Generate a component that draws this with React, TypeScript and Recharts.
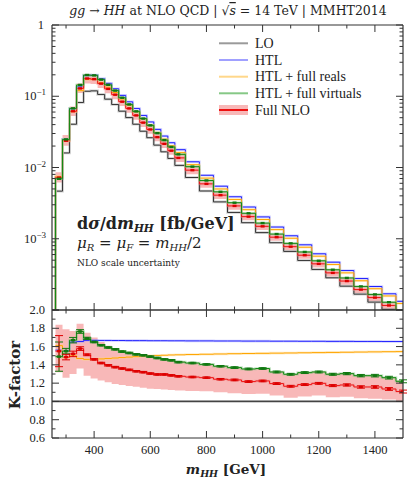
import React from 'react';
import { ComposedChart, Line, Area, Scatter, ErrorBar, XAxis, YAxis, ReferenceLine } from 'recharts';

const FONT = '"Liberation Serif", "DejaVu Serif", serif';
const WIDE = '"DejaVu Serif", serif';
const AXIS = '#333333';
const FLOOR = 1e-7;

// bin centres and bin edges in m_HH [GeV]
const CENTERS = [275, 300, 325, 350, 375, 400, 425, 450, 475, 500, 525, 550, 575, 600, 625, 650, 675, 700,
  750, 800, 850, 900, 950, 1000, 1050, 1100, 1150, 1200, 1250, 1300, 1350, 1400, 1450, 1500];
const EDGES = [262.5, 287.5, 312.5, 337.5, 362.5, 387.5, 412.5, 437.5, 462.5, 487.5, 512.5, 537.5, 562.5, 587.5,
  612.5, 637.5, 662.5, 687.5, 725, 775, 825, 875, 925, 975, 1025, 1075, 1125, 1175, 1225, 1275, 1325, 1375,
  1425, 1475, 1500];

// LO dsigma/dm_HH [fb/GeV]
const LO = [0.00466, 0.016, 0.0405, 0.0816, 0.1175, 0.119, 0.106, 0.091, 0.0765, 0.0617, 0.0502, 0.0405, 0.0323,
  0.0262, 0.0206, 0.0166, 0.0134, 0.0107, 0.00724, 0.00468, 0.00329, 0.00234, 0.00168, 0.00122, 0.00088,
  0.000664, 0.000496, 0.000371, 0.000283, 0.000216, 0.000167, 0.000129, 0.000102, 0.00008];

// K-factors (ratio to LO)
const K_HTL = [1.56, 1.555, 1.65, 1.655, 1.668, 1.668, 1.667, 1.667, 1.666, 1.666, 1.665, 1.665, 1.665, 1.664,
  1.664, 1.664, 1.663, 1.663, 1.662, 1.662, 1.661, 1.661, 1.66, 1.66, 1.659, 1.659, 1.658, 1.658, 1.657, 1.657,
  1.656, 1.656, 1.655, 1.655];
const K_REALS = [1.61, 1.48, 1.5, 1.47, 1.46, 1.46, 1.465, 1.47, 1.475, 1.48, 1.485, 1.49, 1.495, 1.5, 1.503,
  1.505, 1.508, 1.51, 1.513, 1.516, 1.519, 1.522, 1.524, 1.526, 1.528, 1.53, 1.532, 1.534, 1.536, 1.538, 1.54,
  1.542, 1.544, 1.545];
const K_VIRT = [1.49, 1.55, 1.67, 1.765, 1.69, 1.65, 1.615, 1.59, 1.57, 1.545, 1.53, 1.515, 1.505, 1.49, 1.475,
  1.46, 1.45, 1.43, 1.42, 1.405, 1.385, 1.37, 1.355, 1.36, 1.322, 1.297, 1.315, 1.322, 1.297, 1.304, 1.282,
  1.282, 1.26, 1.22];
const K_NLO = [1.55, 1.485, 1.52, 1.578, 1.51, 1.46, 1.42, 1.395, 1.375, 1.36, 1.345, 1.33, 1.32, 1.305, 1.295,
  1.295, 1.285, 1.275, 1.267, 1.26, 1.243, 1.235, 1.217, 1.224, 1.195, 1.166, 1.184, 1.198, 1.173, 1.18, 1.158,
  1.158, 1.136, 1.108];
const K_NLO_UP = [1.84, 1.79, 1.77, 1.85, 1.75, 1.7, 1.65, 1.61, 1.58, 1.56, 1.54, 1.52, 1.5, 1.48, 1.47, 1.465,
  1.455, 1.44, 1.42, 1.41, 1.39, 1.375, 1.355, 1.36, 1.33, 1.3, 1.32, 1.33, 1.305, 1.31, 1.29, 1.285, 1.265, 1.23];
const K_NLO_DN = [1.32, 1.26, 1.3, 1.36, 1.28, 1.25, 1.23, 1.21, 1.19, 1.18, 1.17, 1.16, 1.15, 1.14, 1.135, 1.13,
  1.125, 1.12, 1.115, 1.11, 1.1, 1.09, 1.08, 1.085, 1.065, 1.04, 1.055, 1.065, 1.045, 1.05, 1.035, 1.03, 1.02, 1.0];
const ERR_NLO = [0.17, 0.03, 0.03, 0.02, 0.01, 0.008, 0.008, 0.008, 0.008, 0.008, 0.008, 0.008, 0.008, 0.008,
  0.008, 0.008, 0.008, 0.008, 0.008, 0.008, 0.008, 0.009, 0.009, 0.009, 0.01, 0.01, 0.01, 0.01, 0.011, 0.012,
  0.013, 0.014, 0.015, 0.016];
const ERR_VIRT = [0.16, 0.03, 0.03, 0.02, 0.012, 0.008, 0.008, 0.008, 0.008, 0.008, 0.008, 0.008, 0.008, 0.008,
  0.008, 0.008, 0.008, 0.008, 0.008, 0.008, 0.008, 0.009, 0.009, 0.009, 0.01, 0.01, 0.01, 0.01, 0.011, 0.012,
  0.013, 0.014, 0.015, 0.016];

const X_TICKS = [300, 400, 500, 600, 700, 800, 900, 1000, 1100, 1200, 1300, 1400];
const DECADES = [-4, -3, -2, -1];
const MANTISSAS = [1, 2, 3, 4, 5, 6, 7, 8, 9];
const LOG_TICKS = [...DECADES.flatMap((d) => MANTISSAS.map((m) => m * Math.pow(10, d))), 1];
const RATIO_TICKS = [0.6, 0.7, 0.8, 0.9, 1.0, 1.1, 1.2, 1.3, 1.4, 1.5, 1.6, 1.7, 1.8, 1.9, 2.0];

const LEGEND = ['LO', 'HTL', 'HTL + full reals', 'HTL + full virtuals', 'Full NLO'];
const LEGEND_KEYS = ['lo', 'htl', 'reals', 'virt', 'nlo'];

const SERIES = [
  { key: 'lo', color: '#333333', halo: '#9a9a9a' },
  { key: 'htl', color: '#2222ff', halo: '#a0a0ff' },
  { key: 'reals', color: '#ffa500', halo: '#ffd78a' },
  { key: 'nlo', color: '#ee1111', halo: '#f59a9a' },
  { key: 'virt', color: '#138a13', halo: '#86c886' },
];

const n = CENTERS.length;

const topRows = [
  { x: EDGES[0], lo: FLOOR, htl: FLOOR, reals: FLOOR, virt: FLOOR, nlo: FLOOR },
  ...EDGES.map((x, i) => {
    const j = Math.min(i, n - 1);
    const lo = LO[j];
    return {
      x, lo,
      htl: lo * K_HTL[j], reals: lo * K_REALS[j], virt: lo * K_VIRT[j], nlo: lo * K_NLO[j],
      band: [lo * K_NLO_DN[j], lo * K_NLO_UP[j]],
    };
  }),
];
const topMarks = CENTERS.map((x, j) => ({ x, nlo: LO[j] * K_NLO[j], virt: LO[j] * K_VIRT[j] }));

const ratioRows = EDGES.map((x, i) => {
  const j = Math.min(i, n - 1);
  return { x, htl: K_HTL[j], reals: K_REALS[j], virt: K_VIRT[j], nlo: K_NLO[j], band: [K_NLO_DN[j], K_NLO_UP[j]] };
});
const ratioMarks = CENTERS.map((x, j) => ({ x, nlo: K_NLO[j], nloErr: ERR_NLO[j], virt: K_VIRT[j], virtErr: ERR_VIRT[j] }));

const txt = { fontFamily: FONT, fill: '#222' };
const wide = { fontFamily: WIDE, fill: '#222' };

function xTick(side: 'bottom' | 'top' | 'ratioBottom' | 'ratioTop') {
  return (p: any) => {
    const v = p.payload.value;
    const major = v % 200 === 0;
    const len = major ? 7 : 3.5;
    const down = side === 'top' || side === 'ratioTop';
    return (
      <g>
        <line x1={p.x} x2={p.x} y1={p.y} y2={down ? p.y + len : p.y - len} stroke={AXIS} />
        {side === 'ratioBottom' && major && (
          <text x={p.x} y={p.y + 16} textAnchor="middle" fontSize={12.5} style={txt}>{v}</text>
        )}
      </g>
    );
  };
}

function logTick(left: boolean) {
  return (p: any) => {
    const v = p.payload.value;
    const e = Math.round(Math.log10(v));
    const major = Math.abs(Math.log10(v) - e) < 1e-6;
    const len = major ? 7 : 3.5;
    return (
      <g>
        <line x1={p.x} x2={left ? p.x + len : p.x - len} y1={p.y} y2={p.y} stroke={AXIS} />
        {left && major && e === 0 && (
          <text x={p.x - 8} y={p.y + 4} textAnchor="end" fontSize={12.5} style={txt}>1</text>
        )}
        {left && major && e < 0 && e > -4 && (
          <text x={p.x - 6} y={p.y + 4} textAnchor="end" fontSize={12.5} style={txt}>
            10<tspan dy={-5} fontSize={9}>−{-e}</tspan>
          </text>
        )}
      </g>
    );
  };
}

function ratioTick(left: boolean) {
  return (p: any) => {
    const v = p.payload.value;
    const major = Math.round(v * 10) % 2 === 0;
    const len = major ? 7 : 3.5;
    return (
      <g>
        <line x1={p.x} x2={left ? p.x + len : p.x - len} y1={p.y} y2={p.y} stroke={AXIS} />
        {left && major && (
          <text x={p.x - 7} y={p.y + 4} textAnchor="end" fontSize={12.5} style={txt}>{v.toFixed(1)}</text>
        )}
      </g>
    );
  };
}

const mark = (color: string) => (p: any) => (
  <rect x={p.cx - 2} y={p.cy - 1.2} width={4} height={2.4} fill={color} />
);

function histLines(keys: string[], width: number) {
  return SERIES.filter((s) => keys.includes(s.key)).flatMap((s) => [
    <Line key={s.key + 'h'} dataKey={s.key} type="stepAfter" stroke={s.halo} strokeWidth={2.6} strokeOpacity={0.45}
      dot={false} isAnimationActive={false} />,
    <Line key={s.key} dataKey={s.key} type="stepAfter" stroke={s.color} strokeWidth={width}
      dot={false} isAnimationActive={false} />,
  ]);
}

const axisCommon = {
  tickSize: 0, tickMargin: 0, tickLine: false, interval: 0 as const,
  axisLine: { stroke: AXIS, strokeWidth: 1.2 },
};

function TopPanel() {
  return (
    <ComposedChart width={417} height={480} data={topRows} margin={{ top: 24, right: 13, bottom: 169, left: 51 }}>
      <XAxis dataKey="x" type="number" domain={[250, 1500]} ticks={X_TICKS} allowDataOverflow height={1}
        tick={xTick('bottom')} {...axisCommon} />
      <XAxis xAxisId="top" orientation="top" dataKey="x" type="number" domain={[250, 1500]} ticks={X_TICKS}
        allowDataOverflow height={1} tick={xTick('top')} {...axisCommon} />
      <YAxis type="number" scale="log" domain={[1e-4, 1]} ticks={LOG_TICKS} allowDataOverflow width={1}
        tick={logTick(true)} {...axisCommon} />
      <YAxis yAxisId="r" orientation="right" type="number" scale="log" domain={[1e-4, 1]} ticks={LOG_TICKS}
        allowDataOverflow width={1} tick={logTick(false)} {...axisCommon} />
      <Area dataKey="band" type="stepAfter" fill="#ee5555" fillOpacity={0.42} stroke="none" isAnimationActive={false} />
      {histLines(['lo', 'htl', 'reals', 'nlo', 'virt'], 1)}
      <Scatter data={topMarks} dataKey="nlo" shape={mark('#dd0000')} isAnimationActive={false} />
      <Scatter data={topMarks} dataKey="virt" shape={mark('#117711')} isAnimationActive={false} />
    </ComposedChart>
  );
}

function RatioPanel() {
  return (
    <ComposedChart width={417} height={480} data={ratioRows} margin={{ top: 309, right: 13, bottom: 41, left: 51 }}>
      <XAxis dataKey="x" type="number" domain={[250, 1500]} ticks={X_TICKS} allowDataOverflow height={1}
        tick={xTick('ratioBottom')} {...axisCommon} />
      <XAxis xAxisId="top" orientation="top" dataKey="x" type="number" domain={[250, 1500]} ticks={X_TICKS}
        allowDataOverflow height={1} tick={xTick('ratioTop')} {...axisCommon} />
      <YAxis type="number" domain={[0.6, 2.0]} ticks={RATIO_TICKS} allowDataOverflow width={1}
        tick={ratioTick(true)} {...axisCommon} />
      <YAxis yAxisId="r" orientation="right" type="number" domain={[0.6, 2.0]} ticks={RATIO_TICKS}
        allowDataOverflow width={1} tick={ratioTick(false)} {...axisCommon} />
      <Area dataKey="band" type="stepAfter" fill="#ee5555" fillOpacity={0.42} stroke="none" isAnimationActive={false} />
      <ReferenceLine y={1} stroke="#444" strokeWidth={1.8} />
      {histLines(['htl', 'reals', 'virt', 'nlo'], 1)}
      <Scatter data={ratioMarks} dataKey="virt" shape={mark('#117711')} isAnimationActive={false}>
        <ErrorBar dataKey="virtErr" direction="y" width={4} stroke="#117711" strokeWidth={1} />
      </Scatter>
      <Scatter data={ratioMarks} dataKey="nlo" shape={mark('#dd0000')} isAnimationActive={false}>
        <ErrorBar dataKey="nloErr" direction="y" width={4} stroke="#dd0000" strokeWidth={1} />
      </Scatter>
    </ComposedChart>
  );
}

function Overlay() {
  const legendY = [43.3, 60, 76.7, 93.3, 110];
  return (
    <svg width={417} height={480} style={{ position: 'absolute', left: 0, top: 0, pointerEvents: 'none' }}>
      <text x={228} y={15} textAnchor="middle" fontSize={12.5} style={wide}>
        <tspan fontStyle="italic">gg</tspan> → <tspan fontStyle="italic">HH</tspan> at NLO QCD | √<tspan
          fontStyle="italic" textDecoration="overline">s</tspan> = 14 TeV | MMHT2014
      </text>
      {LEGEND.map((label, i) => {
        const s = SERIES.find((q) => q.key === LEGEND_KEYS[i])!;
        return (
          <g key={label}>
            {i === 4 && <rect x={219} y={legendY[i] - 5} width={29} height={10} fill="#ee5555" fillOpacity={0.42} />}
            <line x1={219} x2={248} y1={legendY[i]} y2={legendY[i]} stroke={i === 4 ? s.color : s.halo} strokeWidth={2} />
            <text x={255} y={legendY[i] + 4.5} fontSize={14} style={txt}>{label}</text>
          </g>
        );
      })}
      <text x={77} y={229} fontSize={16} fontWeight="bold" style={wide}>
        d<tspan fontStyle="italic">σ</tspan>/d<tspan fontStyle="italic">m</tspan>
        <tspan fontSize={10.5} dy={3} fontStyle="italic">HH</tspan><tspan dy={-3}> [fb/GeV]</tspan>
      </text>
      <text x={77} y={248} fontSize={15} style={wide}>
        <tspan fontStyle="italic">μ</tspan><tspan fontSize={10} dy={3} fontStyle="italic">R</tspan>
        <tspan dy={-3}> = </tspan><tspan fontStyle="italic">μ</tspan>
        <tspan fontSize={10} dy={3} fontStyle="italic">F</tspan><tspan dy={-3}> = </tspan>
        <tspan fontStyle="italic">m</tspan><tspan fontSize={10} dy={3} fontStyle="italic">HH</tspan>
        <tspan dy={-3}>/2</tspan>
      </text>
      <text x={77} y={266} fontSize={9} style={wide}>NLO scale uncertainty</text>
      <text transform="translate(20,375) rotate(-90)" textAnchor="middle" fontSize={15} fontWeight="bold" style={wide}>
        K-factor
      </text>
      <text x={226} y={474} textAnchor="middle" fontSize={13.5} fontWeight="bold" style={wide}>
        <tspan fontStyle="italic">m</tspan><tspan fontSize={9.5} dy={3} fontStyle="italic">HH</tspan>
        <tspan dy={-3}> [GeV]</tspan>
      </text>
    </svg>
  );
}

export default function App() {
  return (
    <div style={{ position: 'absolute', left: 0, top: 0, width: 417, height: 480, background: '#fff' }}>
      <div style={{ position: 'absolute', left: 0, top: 0 }}><TopPanel /></div>
      <div style={{ position: 'absolute', left: 0, top: 0 }}><RatioPanel /></div>
      <Overlay />
    </div>
  );
}
